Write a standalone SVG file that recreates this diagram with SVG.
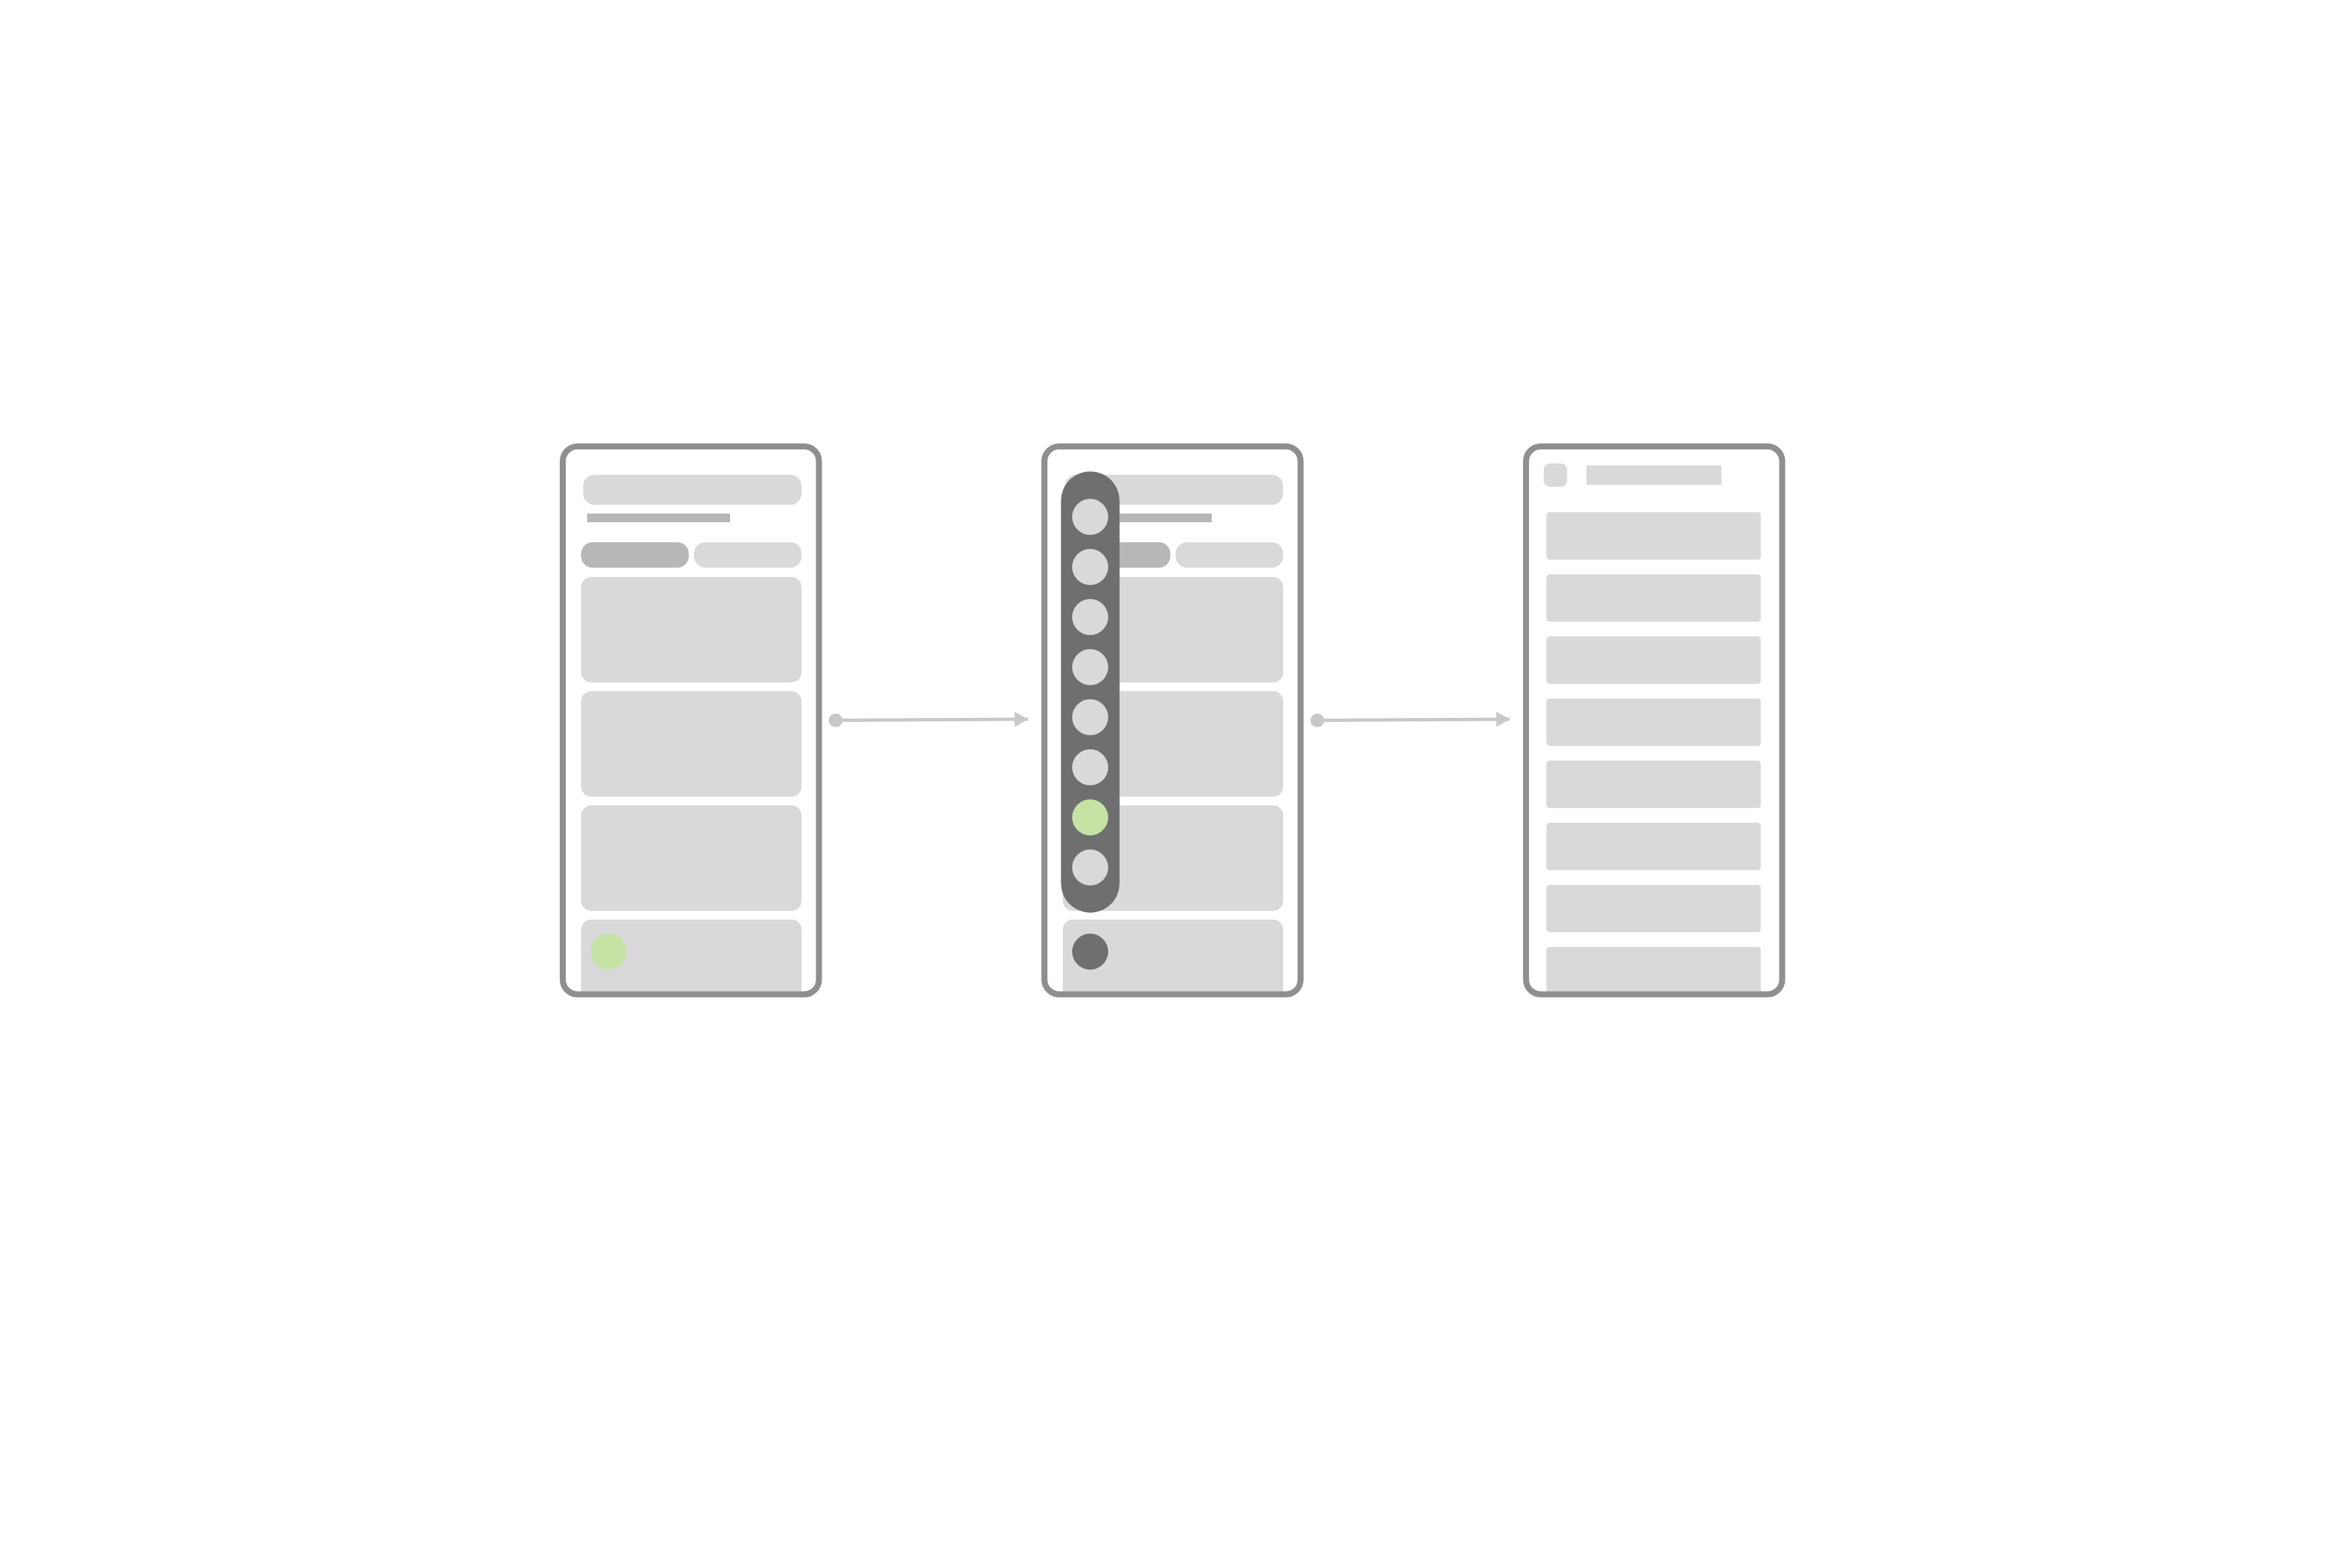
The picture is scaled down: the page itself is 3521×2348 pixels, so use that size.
<svg xmlns="http://www.w3.org/2000/svg" width="3521" height="2348" viewBox="0 0 3521 2348">
<style>
.frame{fill:none;stroke:#8f8f8f;stroke-width:9}
.screen{fill:#ffffff}
.lt{fill:#d9d9d9}
.md{fill:#b8b7b8}
.dk{fill:#6f6f6f}
.gr{fill:#c4e3a4}
.conn{stroke:#c8c8c8;stroke-width:5;fill:none}
.dot{fill:#c8c8c8}
</style>
<defs>
<clipPath id="scr" clipPathUnits="userSpaceOnUse">
<rect x="847" y="673" width="375" height="812" rx="17"/>
</clipPath>
<marker id="arr" markerWidth="20" markerHeight="23" refX="20" refY="11.5" markerUnits="userSpaceOnUse" orient="auto">
<path d="M0,0 L20,11.5 L0,23 Z" fill="#c8c8c8"/>
</marker>
</defs>
<rect x="0" y="0" width="3521" height="2348" fill="#ffffff"/>

<g id="phone1">
<rect class="screen" x="842.5" y="668.5" width="383.5" height="820.5" rx="22"/>
<g clip-path="url(#scr)">
<rect class="lt" x="873" y="711" width="327" height="45" rx="17"/>
<rect class="md" x="879" y="769" width="214" height="13"/>
<rect class="md" x="870" y="812" width="161" height="38" rx="17"/>
<rect class="lt" x="1039" y="812" width="161" height="38" rx="17"/>
<rect class="lt" x="870" y="864" width="330" height="158" rx="15"/>
<rect class="lt" x="870" y="1035" width="330" height="158" rx="15"/>
<rect class="lt" x="870" y="1206" width="330" height="158" rx="15"/>
<rect class="lt" x="870" y="1377" width="330" height="158" rx="15"/>
<circle class="gr" cx="911" cy="1425" r="27"/>
</g>
<rect class="frame" x="842.5" y="668.5" width="383.5" height="820.5" rx="22"/>
</g>

<g id="phone2" transform="translate(721,0)">
<rect class="screen" x="842.5" y="668.5" width="383.5" height="820.5" rx="22"/>
<g clip-path="url(#scr)">
<rect class="lt" x="873" y="711" width="327" height="45" rx="17"/>
<rect class="md" x="879" y="769" width="214" height="13"/>
<rect class="md" x="870" y="812" width="161" height="38" rx="17"/>
<rect class="lt" x="1039" y="812" width="161" height="38" rx="17"/>
<rect class="lt" x="870" y="864" width="330" height="158" rx="15"/>
<rect class="lt" x="870" y="1035" width="330" height="158" rx="15"/>
<rect class="lt" x="870" y="1206" width="330" height="158" rx="15"/>
<rect class="lt" x="870" y="1377" width="330" height="158" rx="15"/>
<circle class="dk" cx="911" cy="1425" r="27"/>
<rect class="dk" x="867.3" y="706" width="87.7" height="660.7" rx="43.85"/>
<circle class="lt" cx="911" cy="774" r="27"/>
<circle class="lt" cx="911" cy="849" r="27"/>
<circle class="lt" cx="911" cy="924" r="27"/>
<circle class="lt" cx="911" cy="999" r="27"/>
<circle class="lt" cx="911" cy="1074" r="27"/>
<circle class="lt" cx="911" cy="1149" r="27"/>
<circle class="gr" cx="911" cy="1224" r="27"/>
<circle class="lt" cx="911" cy="1299" r="27"/>
</g>
<rect class="frame" x="842.5" y="668.5" width="383.5" height="820.5" rx="22"/>
</g>

<g id="phone3" transform="translate(1442,0)">
<rect class="screen" x="842.5" y="668.5" width="383.5" height="820.5" rx="22"/>
<g clip-path="url(#scr)">
<rect class="lt" x="869" y="694" width="35" height="35" rx="9"/>
<rect class="lt" x="933" y="697" width="202" height="29"/>
<rect class="lt" x="873" y="767" width="321" height="71" rx="5"/>
<rect class="lt" x="873" y="860" width="321" height="71" rx="5"/>
<rect class="lt" x="873" y="953" width="321" height="71" rx="5"/>
<rect class="lt" x="873" y="1046" width="321" height="71" rx="5"/>
<rect class="lt" x="873" y="1139" width="321" height="71" rx="5"/>
<rect class="lt" x="873" y="1232" width="321" height="71" rx="5"/>
<rect class="lt" x="873" y="1325" width="321" height="71" rx="5"/>
<rect class="lt" x="873" y="1418" width="321" height="71" rx="5"/>
</g>
<rect class="frame" x="842.5" y="668.5" width="383.5" height="820.5" rx="22"/>
</g>

<g id="connectors">
<circle class="dot" cx="1251" cy="1078.7" r="10.3"/>
<line class="conn" x1="1251" y1="1078.7" x2="1539" y2="1077" marker-end="url(#arr)"/>
<circle class="dot" cx="1972" cy="1078.7" r="10.3"/>
<line class="conn" x1="1972" y1="1078.7" x2="2260" y2="1077" marker-end="url(#arr)"/>
</g>
</svg>
